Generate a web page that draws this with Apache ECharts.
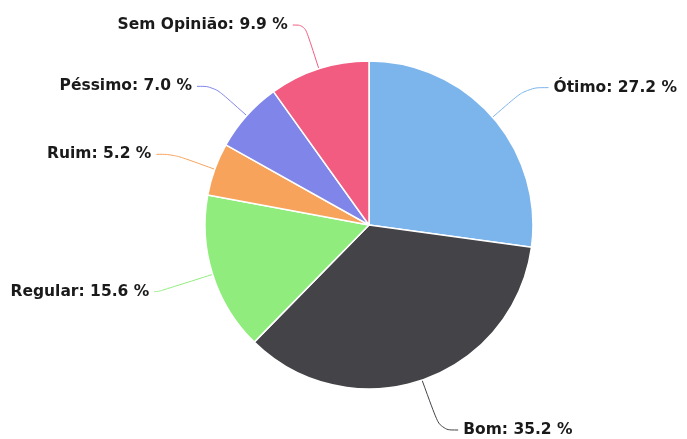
<!DOCTYPE html>
<html>
<head>
<meta charset="utf-8">
<script src="https://cdn.jsdelivr.net/npm/echarts@6/dist/echarts.min.js"></script>
<style>
  html, body { margin: 0; padding: 0; background: #fff; }
  #main { width: 687px; height: 439px; }
</style>
</head>
<body>
<div id="main"></div>
<script>
  // survey answers, in the order the pie runs clockwise from the top
  var categories = ["Ótimo", "Bom", "Regular", "Ruim", "Péssimo", "Sem Opinião"];
  var percents = [27.2, 35.2, 15.6, 5.2, 7.0, 9.9];
  var colors = ["#7cb5ec", "#434348", "#90ed7d", "#f7a35c", "#8085e9", "#f15c80"];

  // a few connectors are longer/shorter in the original
  var lineTweaks = {
    "Ótimo": { length: 45, length2: 22 },
    "Bom": { length: 56, length2: 18 },
    "Regular": { length: 57, length2: 4 },
    "Sem Opinião": { length: 46, length2: 12 },
  };

  var chartDom = document.getElementById("main");
  var myChart = echarts.init(chartDom);

  var data = categories.map(function (name, i) {
    var item = { name: name, value: percents[i], itemStyle: { color: colors[i] } };
    if (lineTweaks[name]) item.labelLine = lineTweaks[name];
    return item;
  });

  myChart.setOption({
    animation: false,
    series: [
      {
        type: "pie",
        center: [369, 225],
        radius: 164,
        startAngle: 90,
        clockwise: true,
        data: data,
        itemStyle: {
          borderColor: "#fff",
          borderWidth: 1.5,
        },
        label: {
          show: true,
          position: "outside",
          overflow: "none",
          color: "#1a1a1a",
          fontFamily: "DejaVu Sans",
          fontWeight: "bold",
          fontSize: 15.5,
          formatter: function (p) {
            return p.name + ": " + p.value.toFixed(1) + " %";
          },
        },
        labelLine: {
          show: true,
          length: 44,
          length2: 17,
          smooth: 0.4,
          lineStyle: { width: 1 },
        },
        emphasis: { disabled: true },
      },
    ],
  });
</script>
</body>
</html>
